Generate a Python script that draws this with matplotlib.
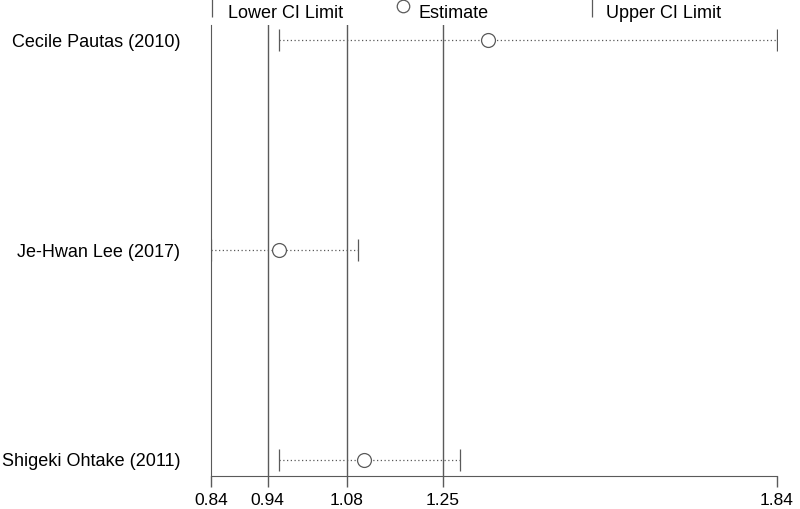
import matplotlib
matplotlib.use('Agg')
import matplotlib.pyplot as plt
from matplotlib.lines import Line2D

plt.rcParams['font.family'] = ['Liberation Sans', 'DejaVu Sans']
plt.rcParams['font.size'] = 13

# studies top to bottom
studies = ['Cecile Pautas (2010)', 'Je-Hwan Lee (2017)', 'Shigeki Ohtake (2011)']
estimate = [1.33, 0.96, 1.11]
lower = [0.96, 0.84, 0.96]
upper = [1.84, 1.10, 1.28]
# combined estimate lines: lower CI, estimate, upper CI
combined = [0.94, 1.08, 1.25]
xticks = [0.84, 0.94, 1.08, 1.25, 1.84]

fig = plt.figure(figsize=(8, 5.09), dpi=100)
ax = fig.add_axes([211/800, 33/509, 566/800, 451/509])

ypos = [3, 2, 1]
grey = '#5a5a5a'

for v in combined:
    ax.axvline(v, color=grey, lw=1)

for y, e, lo, hi in zip(ypos, estimate, lower, upper):
    ax.plot([lo, hi], [y, y], color=grey, lw=0.9, ls=(0, (1, 2)))
    ax.plot([lo, hi], [y, y], ls='none', marker='|', ms=16, mew=0.9, color=grey)
    ax.plot(e, y, marker='o', ms=10, mfc='white', mec=grey, mew=0.9, ls='none')

ax.set_xlim(0.84, 1.84)
ax.set_ylim(1 - 16/210, 3 + 15/210)
ax.set_xticks(xticks)
ax.set_xticklabels(['%.2f' % t for t in xticks], fontsize=12.5)
ax.set_yticks(ypos)
ax.set_yticklabels(studies)
ax.tick_params(axis='y', length=0, pad=22)
ax.tick_params(axis='x', length=8, width=1, color=grey, pad=4)
ax.spines['top'].set_visible(False)
ax.spines['right'].set_visible(False)
ax.spines['left'].set_color(grey)
ax.spines['bottom'].set_color(grey)

# legend across the top
fig.add_artist(Line2D([212/800], [1 - 7/509], marker='|', ms=14, mew=0.9,
                      color=grey, transform=fig.transFigure))
fig.text(228/800, 1 - 14/509, 'Lower CI Limit', va='center')
fig.add_artist(Line2D([403/800], [1 - 6/509], marker='o', ms=9, mfc='white',
                      mec=grey, mew=0.9, transform=fig.transFigure))
fig.text(418/800, 1 - 14/509, 'Estimate', va='center')
fig.add_artist(Line2D([592/800], [1 - 7/509], marker='|', ms=14, mew=0.9,
                      color=grey, transform=fig.transFigure))
fig.text(606/800, 1 - 14/509, 'Upper CI Limit', va='center')

fig.savefig('out.png', dpi=100)
